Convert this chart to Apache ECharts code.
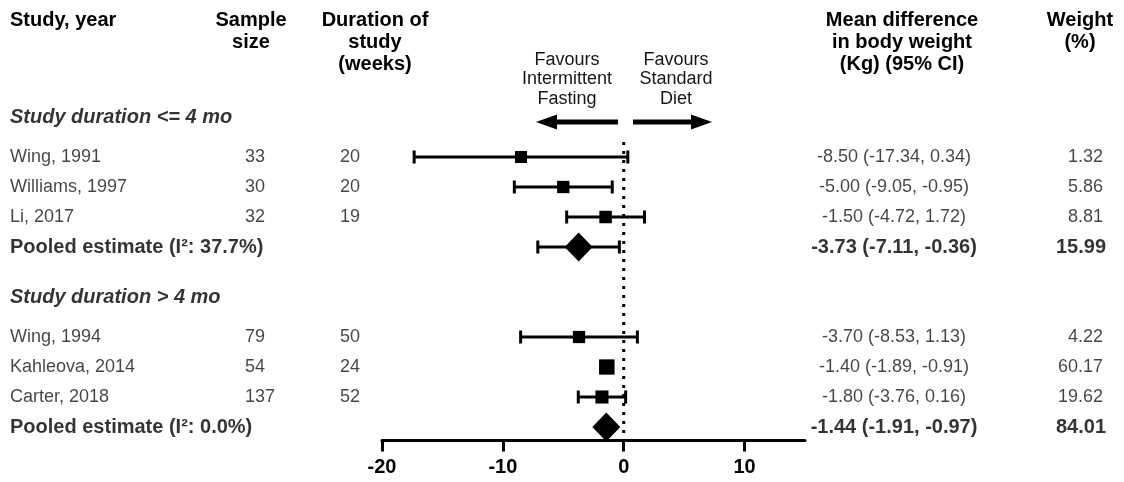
<!DOCTYPE html>
<html>
<head>
<meta charset="utf-8">
<script src="https://cdn.jsdelivr.net/npm/echarts@6/dist/echarts.min.js"></script>
<style>
  html, body { margin: 0; padding: 0; background: #fff; }
  #main { width: 1124px; height: 482px; }
</style>
</head>
<body>
<div id="main"></div>
<script>
// ---- data ----
var groupTitles = ['Study duration <= 4 mo', 'Study duration > 4 mo'];
var studyNames = ['Wing, 1991', 'Williams, 1997', 'Li, 2017', 'Wing, 1994', 'Kahleova, 2014', 'Carter, 2018'];
var studyGroup = [0, 0, 0, 1, 1, 1];
var sampleSize = [33, 30, 32, 79, 54, 137];
var durationWeeks = [20, 20, 19, 50, 24, 52];
var meanDiff = [-8.50, -5.00, -1.50, -3.70, -1.40, -1.80];
var ciLow = [-17.34, -9.05, -4.72, -8.53, -1.89, -3.76];
var ciHigh = [0.34, -0.95, 1.72, 1.13, -0.91, 0.16];
var weightPct = [1.32, 5.86, 8.81, 4.22, 60.17, 19.62];

var pooledI2 = ['37.7%', '0.0%'];
var pooledMean = [-3.73, -1.44];
var pooledLow = [-7.11, -1.91];
var pooledHigh = [-0.36, -0.97];
var pooledWeight = [15.99, 84.01];

var xTicks = [-20, -10, 0, 10];

// ---- layout ----
var ROW_PX = 30;          // one row slot in pixels
var SLOT0_Y = 157;        // pixel y of the first study row
var GROUP_SLOTS = 6;      // slots taken by one group incl. gap
var SLOT_MIN = -0.5, SLOT_MAX = 9.45;
var COL = { study: 10, n: 245, dur: 340, md: 894, wt: 1103 };
var FONT = '"Liberation Sans", Arial, Helvetica, sans-serif';

function fmt(v) { return v.toFixed(2); }

// work out the row slot of each study / pooled line
var counters = [0, 0];
var studySlot = studyNames.map(function (n, i) {
    var g = studyGroup[i];
    return g * GROUP_SLOTS + (counters[g]++);
});
var pooledSlot = groupTitles.map(function (t, g) { return g * GROUP_SLOTS + counters[g]; });
var titleSlot = groupTitles.map(function (t, g) { return g * GROUP_SLOTS - 1.33; });

// forest data: [mean, lo, hi, slot, weight, pooled]
var forestData = [];
studyNames.forEach(function (n, i) {
    forestData.push([meanDiff[i], ciLow[i], ciHigh[i], studySlot[i], weightPct[i], 0]);
});
groupTitles.forEach(function (t, g) {
    forestData.push([pooledMean[g], pooledLow[g], pooledHigh[g], pooledSlot[g], pooledWeight[g], 1]);
});

// table text, one series per column
function txt(x, slot, text, bold, italic) {
    var it = { value: [x, slot], name: String(text) };
    if (bold || italic) {
        it.label = { fontWeight: bold ? 'bold' : 'normal', fontStyle: italic ? 'italic' : 'normal',
                     fontSize: 20, color: '#000' };
    }
    return it;
}
var colStudy = [], colN = [], colDur = [], colMd = [], colWt = [];
groupTitles.forEach(function (t, g) {
    colStudy.push(txt(COL.study, titleSlot[g], t, true, true));
});
studyNames.forEach(function (n, i) {
    colStudy.push(txt(COL.study, studySlot[i], n));
    colN.push(txt(COL.n, studySlot[i], sampleSize[i]));
    colDur.push(txt(COL.dur, studySlot[i], durationWeeks[i]));
    colMd.push(txt(COL.md, studySlot[i], fmt(meanDiff[i]) + ' (' + fmt(ciLow[i]) + ', ' + fmt(ciHigh[i]) + ')'));
    colWt.push(txt(COL.wt, studySlot[i], fmt(weightPct[i])));
});
groupTitles.forEach(function (t, g) {
    colStudy.push(txt(COL.study, pooledSlot[g], 'Pooled estimate (I\u00b2: ' + pooledI2[g] + ')', true));
    colMd.push(txt(COL.md, pooledSlot[g], fmt(pooledMean[g]) + ' (' + fmt(pooledLow[g]) + ', ' + fmt(pooledHigh[g]) + ')', true));
    colWt.push(txt(COL.wt + 3, pooledSlot[g], fmt(pooledWeight[g]), true));
});

function textSeries(data, align) {
    return {
        type: 'scatter', xAxisIndex: 1, yAxisIndex: 1, symbolSize: 0, silent: true,
        data: data,
        label: { show: true, position: 'inside', align: align, verticalAlign: 'middle',
                 formatter: '{b}', fontFamily: FONT, fontSize: 18, color: '#161616' },
        emphasis: { disabled: true }
    };
}

var myChart = echarts.init(document.getElementById('main'), null, { renderer: 'canvas' });

function renderForest(params, api) {
    var mean = api.value(0), lo = api.value(1), hi = api.value(2);
    var slot = api.value(3), w = api.value(4), pooled = api.value(5);
    var pm = api.coord([mean, slot]), pl = api.coord([lo, slot]), ph = api.coord([hi, slot]);
    var st = { stroke: '#000', lineWidth: 3, fill: null };
    var cap = 6.5;
    var kids = [
        { type: 'line', shape: { x1: pl[0], y1: pl[1], x2: ph[0], y2: ph[1] }, style: st },
        { type: 'line', shape: { x1: pl[0], y1: pl[1] - cap, x2: pl[0], y2: pl[1] + cap }, style: st },
        { type: 'line', shape: { x1: ph[0], y1: ph[1] - cap, x2: ph[0], y2: ph[1] + cap }, style: st }
    ];
    if (pooled) {
        var hw = 14, hh = 14.5;
        kids.push({ type: 'polygon',
            shape: { points: [[pm[0] - hw, pm[1]], [pm[0], pm[1] - hh], [pm[0] + hw, pm[1]], [pm[0], pm[1] + hh]] },
            style: { fill: '#000' } });
    } else {
        var s = Math.min(15.5, 12 + w * 0.055);
        kids.push({ type: 'rect', shape: { x: pm[0] - s / 2, y: pm[1] - s / 2, width: s, height: s },
            style: { fill: '#000' } });
    }
    return { type: 'group', children: kids };
}

function hdr(text, x, y, align, bold, size, lh) {
    return {
        type: 'text', silent: true,
        style: {
            text: text, x: x, y: y, fill: bold ? '#000' : '#161616',
            font: (bold ? 'bold ' : '') + size + 'px ' + FONT,
            align: align, textAlign: align, verticalAlign: 'top', textVerticalAlign: 'top',
            lineHeight: lh
        }
    };
}

function arrow(tailX, tipX, y) {
    var d = tipX < tailX ? -1 : 1;
    var headLen = 21, headH = 7.5, shaft = 2.5;
    var bx = tipX - d * headLen;
    return {
        type: 'polygon', silent: true,
        shape: { points: [[tailX, y - shaft], [bx, y - shaft], [bx, y - headH], [tipX, y], [bx, y + headH], [bx, y + shaft], [tailX, y + shaft]] },
        style: { fill: '#000' }
    };
}

var gridBottomY = SLOT0_Y + SLOT_MAX * ROW_PX;

var option = {
    backgroundColor: '#fff',
    animation: false,
    grid: [
        { left: 382, right: 1124 - 805, top: SLOT0_Y + SLOT_MIN * ROW_PX, bottom: 482 - gridBottomY },
        { left: 0, right: 0, top: 0, bottom: 0 }
    ],
    xAxis: [
        {
            type: 'value', gridIndex: 0, min: -20, max: 15, interval: 10,
            axisLine: { show: true, onZero: false, lineStyle: { color: '#000', width: 3 } },
            axisTick: { show: true, inside: false, length: 11, customValues: xTicks,
                        lineStyle: { color: '#000', width: 3 } },
            axisLabel: { show: true, customValues: xTicks, margin: 17, color: '#000',
                         fontFamily: FONT, fontWeight: 'bold', fontSize: 20 },
            splitLine: { show: false }
        },
        { type: 'value', gridIndex: 1, min: 0, max: 1124, show: false }
    ],
    yAxis: [
        { type: 'value', gridIndex: 0, min: SLOT_MIN, max: SLOT_MAX, inverse: true, show: false },
        { type: 'value', gridIndex: 1, inverse: true, show: false,
          min: -SLOT0_Y / ROW_PX, max: (482 - SLOT0_Y) / ROW_PX }
    ],
    series: [
        {
            type: 'line', xAxisIndex: 0, yAxisIndex: 0, silent: true, symbol: 'none',
            data: [[0, SLOT_MIN], [0, SLOT_MAX]],
            lineStyle: { color: '#000', width: 3, type: [3, 6], cap: 'butt' },
            z: 1
        },
        {
            type: 'custom', xAxisIndex: 0, yAxisIndex: 0, silent: true,
            renderItem: renderForest, data: forestData, clip: false, z: 3
        },
        textSeries(colStudy, 'left'),
        textSeries(colN, 'left'),
        textSeries(colDur, 'left'),
        textSeries(colMd, 'center'),
        textSeries(colWt, 'right')
    ],
    graphic: [
        hdr('Study, year', 10, 9.5, 'left', true, 20, 22),
        hdr('Sample\nsize', 251, 9.5, 'center', true, 20, 22),
        hdr('Duration of\nstudy\n(weeks)', 375, 9.5, 'center', true, 20, 22),
        hdr('Mean difference\nin body weight\n(Kg) (95% CI)', 902, 9.5, 'center', true, 20, 22),
        hdr('Weight\n(%)', 1080, 9.5, 'center', true, 20, 22),
        hdr('Favours\nIntermittent\nFasting', 567, 50, 'center', false, 18, 19.5),
        hdr('Favours\nStandard\nDiet', 676, 50, 'center', false, 18, 19.5),
        arrow(618, 536, 122),
        arrow(633, 712, 122)
    ]
};
myChart.setOption(option);
</script>
</body>
</html>
